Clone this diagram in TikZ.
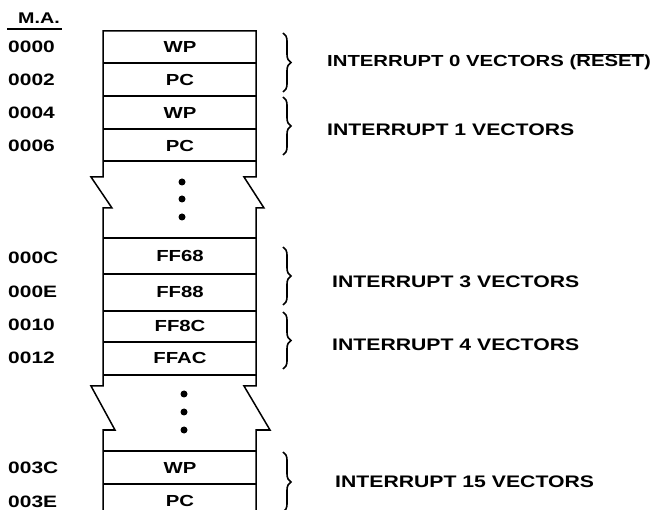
\documentclass[tikz,border=0pt]{standalone}
\usepackage{fontspec}
\setmainfont{Liberation Sans}[FakeStretch=1.27]
\usetikzlibrary{decorations.pathreplacing}
\tikzset{
  wall/.style={line width=1.5pt, line join=miter},
  rowline/.style={line width=1.3pt},
  cell/.style={inner sep=0pt, font=\fontsize{16}{18}\selectfont\bfseries},
  addr/.style={anchor=west, inner sep=0pt, font=\fontsize{16.5}{18}\selectfont\bfseries},
  vlabel/.style={anchor=west, inner sep=0pt, font=\fontsize{16.7}{18}\selectfont\bfseries},
  vbrace/.style={decorate, decoration={brace, amplitude=8pt}, line width=1.6pt},
  dotmark/.style={circle, fill, inner sep=0pt, minimum size=7pt},
}
\begin{document}
\begin{tikzpicture}[x=1pt,y=-1pt]
\useasboundingbox (0,0) rectangle (656,510);
% header
\node[inner sep=0pt, font=\fontsize{15.5}{17}\selectfont\bfseries] (ma) at (39,18) {M.A.};
\coordinate (ul1) at (7,29);
\coordinate (ul2) at (62,29);
\draw[line width=1.2pt] (ul1) -- (ul2);
% outline of the memory column
\draw[wall] (103,510) -- (103,430) -- (115,430) -- (91,386) -- (103,386) -- (103,208) -- (112,208) -- (91,177) -- (103,177) -- (103,31)
  -- (256,31) -- (256,177) -- (244,177) -- (264,208) -- (256,208) -- (256,386) -- (244,386) -- (270,430) -- (256,430) -- (256,510);
% row separators
\foreach \y in {63,96,129,161,238,274,311,342,375,451,484}
  \draw[rowline] (103,\y) -- (256,\y);
% cells
\node[cell] (c0) at (180,47) {WP};
\node[cell] (c2) at (180,80) {PC};
\node[cell] (c4) at (180,113) {WP};
\node[cell] (c6) at (180,146) {PC};
\node[cell] (cC) at (180,256) {FF68};
\node[cell] (cE) at (180,292) {FF88};
\node[cell] (c10) at (180,326) {FF8C};
\node[cell] (c12) at (180,358) {FFAC};
\node[cell] (c3C) at (180,468) {WP};
\node[cell] (c3E) at (180,501) {PC};
% dots
\node[dotmark] (d1) at (182,182) {};
\node[dotmark] (d2) at (182,199) {};
\node[dotmark] (d3) at (182,217) {};
\node[dotmark] (d4) at (184,394) {};
\node[dotmark] (d5) at (184,412) {};
\node[dotmark] (d6) at (184,430) {};
% addresses
\node[addr] (a0) at (8,47) {0000};
\node[addr] (a2) at (8,80) {0002};
\node[addr] (a4) at (8,113) {0004};
\node[addr] (a6) at (8,146) {0006};
\node[addr] (aC) at (8,258) {000C};
\node[addr] (aE) at (8,292) {000E};
\node[addr] (a10) at (8,325) {0010};
\node[addr] (a12) at (8,358) {0012};
\node[addr] (a3C) at (8,468) {003C};
\node[addr] (a3E) at (8,502) {003E};
% braces
\coordinate (b0t) at (283,33);  \coordinate (b0b) at (283,92);
\coordinate (b1t) at (283,97);  \coordinate (b1b) at (283,155);
\coordinate (b3t) at (283,247); \coordinate (b3b) at (283,305);
\coordinate (b4t) at (283,312); \coordinate (b4b) at (283,369);
\coordinate (b15t) at (283,452); \coordinate (b15b) at (283,512);
\draw[vbrace] (b0t) -- (b0b);
\draw[vbrace] (b1t) -- (b1b);
\draw[vbrace] (b3t) -- (b3b);
\draw[vbrace] (b4t) -- (b4b);
\draw[vbrace] (b15t) -- (b15b);
% labels
\node[vlabel, font=\fontsize{16}{18}\selectfont\bfseries] (l0) at (327,62) {INTERRUPT 0 VECTORS ($\overline{\hbox{RESET}}$)};
\node[vlabel] (l1) at (327,130) {INTERRUPT 1 VECTORS};
\node[vlabel] (l3) at (332,282) {INTERRUPT 3 VECTORS};
\node[vlabel] (l4) at (332,345) {INTERRUPT 4 VECTORS};
\node[vlabel] (l15) at (335,482) {INTERRUPT 15 VECTORS};
\end{tikzpicture}
\end{document}
